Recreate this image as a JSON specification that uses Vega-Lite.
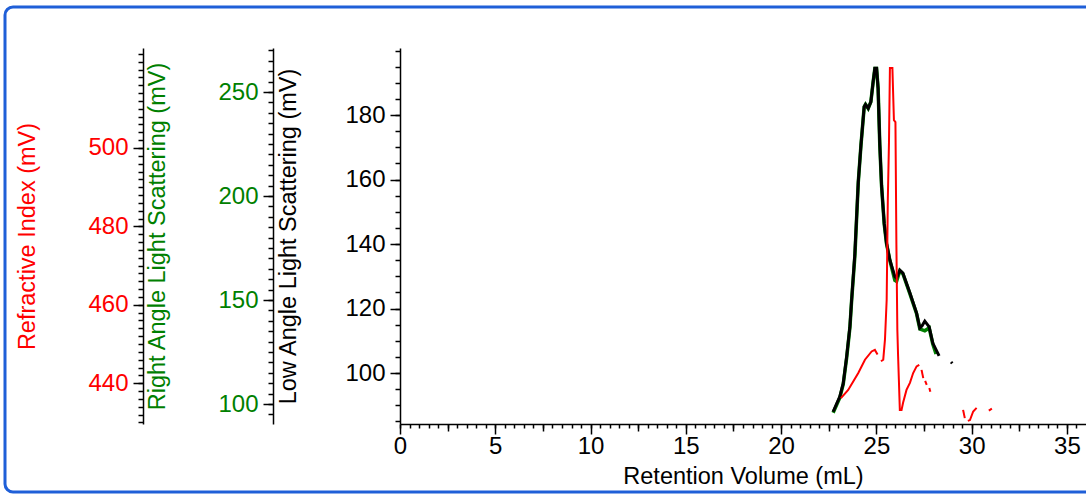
{
  "$schema": "https://vega.github.io/schema/vega-lite/v6.json",
  "autosize": {"type": "none"},
  "padding": {"left": 5, "top": 7, "right": 0, "bottom": 2},
  "width": 1090,
  "height": 485,
  "background": "white",
  "config": {
    "view": {"stroke": "#1f5fd8", "strokeWidth": 3, "cornerRadius": 8},
    "font": "Liberation Sans",
    "axis": {"grid": false, "labelFont": "Liberation Sans", "titleFont": "Liberation Sans", "titleFontWeight": "normal", "domainColor": "black", "tickColor": "black", "domainWidth": 1.5, "tickWidth": 1.5}
  },
  "datasets": {
    "black": [
      {"x": 22.73, "y": 88.0, "seg": 1}, {"x": 23.08, "y": 92.7, "seg": 1}, {"x": 23.26, "y": 96.8, "seg": 1}, {"x": 23.44, "y": 105.1, "seg": 1},
      {"x": 23.61, "y": 114.4, "seg": 1}, {"x": 23.70, "y": 122.6, "seg": 1}, {"x": 23.87, "y": 137.0, "seg": 1}, {"x": 24.05, "y": 159.3, "seg": 1},
      {"x": 24.19, "y": 170.7, "seg": 1}, {"x": 24.36, "y": 182.6, "seg": 1}, {"x": 24.43, "y": 183.3, "seg": 1}, {"x": 24.57, "y": 182.1, "seg": 1},
      {"x": 24.71, "y": 184.1, "seg": 1}, {"x": 24.83, "y": 190.3, "seg": 1}, {"x": 24.92, "y": 194.5, "seg": 1}, {"x": 25.01, "y": 194.5, "seg": 1},
      {"x": 25.09, "y": 188.3, "seg": 1}, {"x": 25.18, "y": 170.7, "seg": 1}, {"x": 25.27, "y": 158.3, "seg": 1}, {"x": 25.41, "y": 146.4, "seg": 1},
      {"x": 25.53, "y": 140.3, "seg": 1}, {"x": 25.71, "y": 135.0, "seg": 1}, {"x": 25.97, "y": 129.9, "seg": 1}, {"x": 26.06, "y": 129.4, "seg": 1},
      {"x": 26.23, "y": 131.9, "seg": 1}, {"x": 26.39, "y": 131.0, "seg": 1}, {"x": 26.76, "y": 124.8, "seg": 1}, {"x": 27.11, "y": 118.6, "seg": 1},
      {"x": 27.28, "y": 114.0, "seg": 1}, {"x": 27.39, "y": 114.6, "seg": 1}, {"x": 27.54, "y": 116.1, "seg": 1}, {"x": 27.77, "y": 114.3, "seg": 1},
      {"x": 27.96, "y": 109.3, "seg": 1}, {"x": 28.29, "y": 105.3, "seg": 1},
      {"x": 28.92, "y": 103.4, "seg": 2}, {"x": 28.98, "y": 103.0, "seg": 2}
    ],
    "green": [
      {"x": 22.73, "y": 95.8, "seg": 1}, {"x": 23.08, "y": 103.0, "seg": 1}, {"x": 23.26, "y": 109.5, "seg": 1}, {"x": 23.44, "y": 122.3, "seg": 1},
      {"x": 23.61, "y": 136.8, "seg": 1}, {"x": 23.70, "y": 149.7, "seg": 1}, {"x": 23.87, "y": 171.0, "seg": 1}, {"x": 24.05, "y": 206.7, "seg": 1},
      {"x": 24.19, "y": 224.4, "seg": 1}, {"x": 24.36, "y": 242.9, "seg": 1}, {"x": 24.43, "y": 244.1, "seg": 1}, {"x": 24.57, "y": 242.1, "seg": 1},
      {"x": 24.71, "y": 245.3, "seg": 1}, {"x": 24.83, "y": 255.0, "seg": 1}, {"x": 24.92, "y": 261.4, "seg": 1}, {"x": 25.01, "y": 261.4, "seg": 1},
      {"x": 25.09, "y": 251.8, "seg": 1}, {"x": 25.18, "y": 224.4, "seg": 1}, {"x": 25.27, "y": 205.1, "seg": 1}, {"x": 25.41, "y": 186.7, "seg": 1},
      {"x": 25.53, "y": 177.2, "seg": 1}, {"x": 25.71, "y": 169.0, "seg": 1}, {"x": 25.97, "y": 159.5, "seg": 1}, {"x": 26.06, "y": 159.0, "seg": 1},
      {"x": 26.23, "y": 164.1, "seg": 1}, {"x": 26.39, "y": 162.7, "seg": 1}, {"x": 26.76, "y": 153.0, "seg": 1}, {"x": 27.11, "y": 143.4, "seg": 1},
      {"x": 27.28, "y": 136.1, "seg": 1}, {"x": 27.54, "y": 135.2, "seg": 1}, {"x": 27.77, "y": 136.6, "seg": 1}, {"x": 27.96, "y": 128.9, "seg": 1},
      {"x": 28.13, "y": 124.1, "seg": 1}
    ],
    "red": [
      {"x": 23.14, "y": 436.2, "seg": 1}, {"x": 23.52, "y": 438.3, "seg": 1}, {"x": 24.05, "y": 442.6, "seg": 1}, {"x": 24.40, "y": 446.0, "seg": 1},
      {"x": 24.75, "y": 448.1, "seg": 1}, {"x": 24.92, "y": 448.5, "seg": 1}, {"x": 25.06, "y": 447.3, "seg": 1},
      {"x": 25.24, "y": 445.6, "seg": 2}, {"x": 25.36, "y": 446.0, "seg": 2}, {"x": 25.45, "y": 451.1, "seg": 2}, {"x": 25.54, "y": 461.3, "seg": 2},
      {"x": 25.60, "y": 486.8, "seg": 2}, {"x": 25.66, "y": 501.3, "seg": 2}, {"x": 25.71, "y": 520.4, "seg": 2}, {"x": 25.84, "y": 520.4, "seg": 2},
      {"x": 25.92, "y": 507.1, "seg": 2}, {"x": 26.00, "y": 506.6, "seg": 2}, {"x": 26.05, "y": 475.3, "seg": 2}, {"x": 26.10, "y": 453.6, "seg": 2},
      {"x": 26.14, "y": 446.8, "seg": 2}, {"x": 26.18, "y": 440.9, "seg": 2}, {"x": 26.23, "y": 433.2, "seg": 2}, {"x": 26.32, "y": 433.2, "seg": 2},
      {"x": 26.40, "y": 435.0, "seg": 2}, {"x": 26.58, "y": 438.3, "seg": 2}, {"x": 26.76, "y": 440.1, "seg": 2}, {"x": 26.93, "y": 442.6, "seg": 2},
      {"x": 27.11, "y": 444.3, "seg": 2}, {"x": 27.25, "y": 444.7, "seg": 2},
      {"x": 27.37, "y": 443.4, "seg": 3}, {"x": 27.46, "y": 441.3, "seg": 3},
      {"x": 27.56, "y": 440.6, "seg": 4}, {"x": 27.64, "y": 439.6, "seg": 4},
      {"x": 27.78, "y": 438.8, "seg": 5}, {"x": 27.83, "y": 437.8, "seg": 5},
      {"x": 29.55, "y": 433.2, "seg": 6}, {"x": 29.64, "y": 431.1, "seg": 6},
      {"x": 29.80, "y": 430.4, "seg": 7}, {"x": 29.91, "y": 430.6, "seg": 7}, {"x": 30.08, "y": 432.8, "seg": 7}, {"x": 30.26, "y": 433.7, "seg": 7},
      {"x": 30.90, "y": 433.0, "seg": 8}, {"x": 31.06, "y": 433.5, "seg": 8}
    ]
  },
  "resolve": {"scale": {"y": "independent"}, "axis": {"x": "independent", "y": "independent"}},
  "layer": [
    {
      "data": {"name": "green"},
      "mark": {"type": "line", "color": "#008000", "strokeWidth": 3.5},
      "encoding": {
        "x": {"field": "x", "type": "quantitative", "scale": {"domain": [0, 36], "nice": false, "range": [395, 1081]},
          "axis": {"orient": "bottom", "offset": -68, "values": [0, 5, 10, 15, 20, 25, 30, 35], "tickSize": 10, "labelFontSize": 24, "labelColor": "black", "labelFlush": false, "labelOverlap": false, "labelPadding": 0, "title": "Retention Volume (mL)", "titleFontSize": 23.5, "titleColor": "black", "titlePadding": 6}},
        "y": {"field": "y", "type": "quantitative", "scale": {"domain": [90.4, 271.2], "nice": false, "zero": false, "range": [417, 41]},
          "axis": {"orient": "left", "offset": -268, "values": [100, 150, 200, 250], "tickSize": 10, "labelFontSize": 24, "labelColor": "#008000", "labelPadding": 5,
            "title": "Right Angle Light Scattering (mV)", "titleFontSize": 23.5, "titleColor": "#008000", "titleAngle": -90, "titleX": -116, "titleY": 229, "titleBaseline": "middle", "titleAlign": "center"}},
        "detail": {"field": "seg", "type": "nominal"}
      }
    },
    {
      "data": {"name": "green"},
      "mark": {"type": "line", "strokeOpacity": 0},
      "encoding": {
        "x": {"field": "x", "type": "quantitative", "scale": {"domain": [0, 36], "nice": false, "range": [395, 1081]},
          "axis": {"orient": "bottom", "offset": -68, "values": [2.5, 7.5, 12.5, 17.5, 22.5, 27.5, 32.5], "tickSize": 7, "labels": false, "domain": false, "title": null}},
        "y": {"field": "y", "type": "quantitative", "scale": {"domain": [90.4, 271.2], "nice": false, "zero": false, "range": [417, 41]},
          "axis": {"orient": "left", "offset": -268, "values": [95, 100, 105, 110, 115, 120, 125, 130, 135, 140, 145, 150, 155, 160, 165, 170, 175, 180, 185, 190, 195, 200, 205, 210, 215, 220, 225, 230, 235, 240, 245, 250, 255, 260, 265, 270], "tickSize": 5, "labels": false, "domain": false, "title": null}},
        "detail": {"field": "seg", "type": "nominal"}
      }
    },
    {
      "data": {"name": "black"},
      "mark": {"type": "line", "color": "black", "strokeWidth": 3},
      "encoding": {
        "x": {"field": "x", "type": "quantitative", "scale": {"domain": [0, 36], "nice": false, "range": [395, 1081]},
          "axis": {"orient": "bottom", "offset": -68, "values": [0, 0.5, 1, 1.5, 2, 2.5, 3, 3.5, 4, 4.5, 5, 5.5, 6, 6.5, 7, 7.5, 8, 8.5, 9, 9.5, 10, 10.5, 11, 11.5, 12, 12.5, 13, 13.5, 14, 14.5, 15, 15.5, 16, 16.5, 17, 17.5, 18, 18.5, 19, 19.5, 20, 20.5, 21, 21.5, 22, 22.5, 23, 23.5, 24, 24.5, 25, 25.5, 26, 26.5, 27, 27.5, 28, 28.5, 29, 29.5, 30, 30.5, 31, 31.5, 32, 32.5, 33, 33.5, 34, 34.5, 35, 35.5], "tickSize": 4, "labels": false, "domain": false, "title": null}},
        "y": {"field": "y", "type": "quantitative", "scale": {"domain": [84.2, 200.8], "nice": false, "zero": false, "range": [417, 41]},
          "axis": {"orient": "left", "offset": -395, "values": [100, 120, 140, 160, 180], "tickSize": 10, "labelFontSize": 24, "labelColor": "black", "labelPadding": 5,
            "title": "Low Angle Light Scattering (mV)", "titleFontSize": 23.5, "titleColor": "black", "titleAngle": -90, "titleX": -112, "titleY": 229, "titleBaseline": "middle", "titleAlign": "center"}},
        "detail": {"field": "seg", "type": "nominal"}
      }
    },
    {
      "data": {"name": "black"},
      "mark": {"type": "line", "strokeOpacity": 0},
      "encoding": {
        "x": {"field": "x", "type": "quantitative", "scale": {"domain": [0, 36], "nice": false, "range": [395, 1081]}, "axis": null},
        "y": {"field": "y", "type": "quantitative", "scale": {"domain": [84.2, 200.8], "nice": false, "zero": false, "range": [417, 41]},
          "axis": {"orient": "left", "offset": -395, "values": [85, 90, 95, 100, 105, 110, 115, 120, 125, 130, 135, 140, 145, 150, 155, 160, 165, 170, 175, 180, 185, 190, 195, 200], "tickSize": 5, "labels": false, "domain": false, "title": null}},
        "detail": {"field": "seg", "type": "nominal"}
      }
    },
    {
      "data": {"name": "red"},
      "mark": {"type": "line", "color": "#ff0000", "strokeWidth": 2},
      "encoding": {
        "x": {"field": "x", "type": "quantitative", "scale": {"domain": [0, 36], "nice": false, "range": [395, 1081]}, "axis": null},
        "y": {"field": "y", "type": "quantitative", "scale": {"domain": [429.6, 525.5], "nice": false, "zero": false, "range": [417, 41]},
          "axis": {"orient": "left", "offset": -138, "values": [440, 460, 480, 500], "tickSize": 10, "labelFontSize": 24, "labelColor": "#ff0000", "labelPadding": 5,
            "title": "Refractive Index (mV)", "titleFontSize": 23.5, "titleColor": "#ff0000", "titleAngle": -90, "titleX": -116, "titleY": 229, "titleBaseline": "middle", "titleAlign": "center"}},
        "detail": {"field": "seg", "type": "nominal"}
      }
    },
    {
      "data": {"name": "red"},
      "mark": {"type": "line", "strokeOpacity": 0},
      "encoding": {
        "x": {"field": "x", "type": "quantitative", "scale": {"domain": [0, 36], "nice": false, "range": [395, 1081]}, "axis": null},
        "y": {"field": "y", "type": "quantitative", "scale": {"domain": [429.6, 525.5], "nice": false, "zero": false, "range": [417, 41]},
          "axis": {"orient": "left", "offset": -138, "values": [430, 432, 434, 436, 438, 440, 442, 444, 446, 448, 450, 452, 454, 456, 458, 460, 462, 464, 466, 468, 470, 472, 474, 476, 478, 480, 482, 484, 486, 488, 490, 492, 494, 496, 498, 500, 502, 504, 506, 508, 510, 512, 514, 516, 518, 520, 522, 524], "tickSize": 5, "labels": false, "domain": false, "title": null}},
        "detail": {"field": "seg", "type": "nominal"}
      }
    }
  ]
}
